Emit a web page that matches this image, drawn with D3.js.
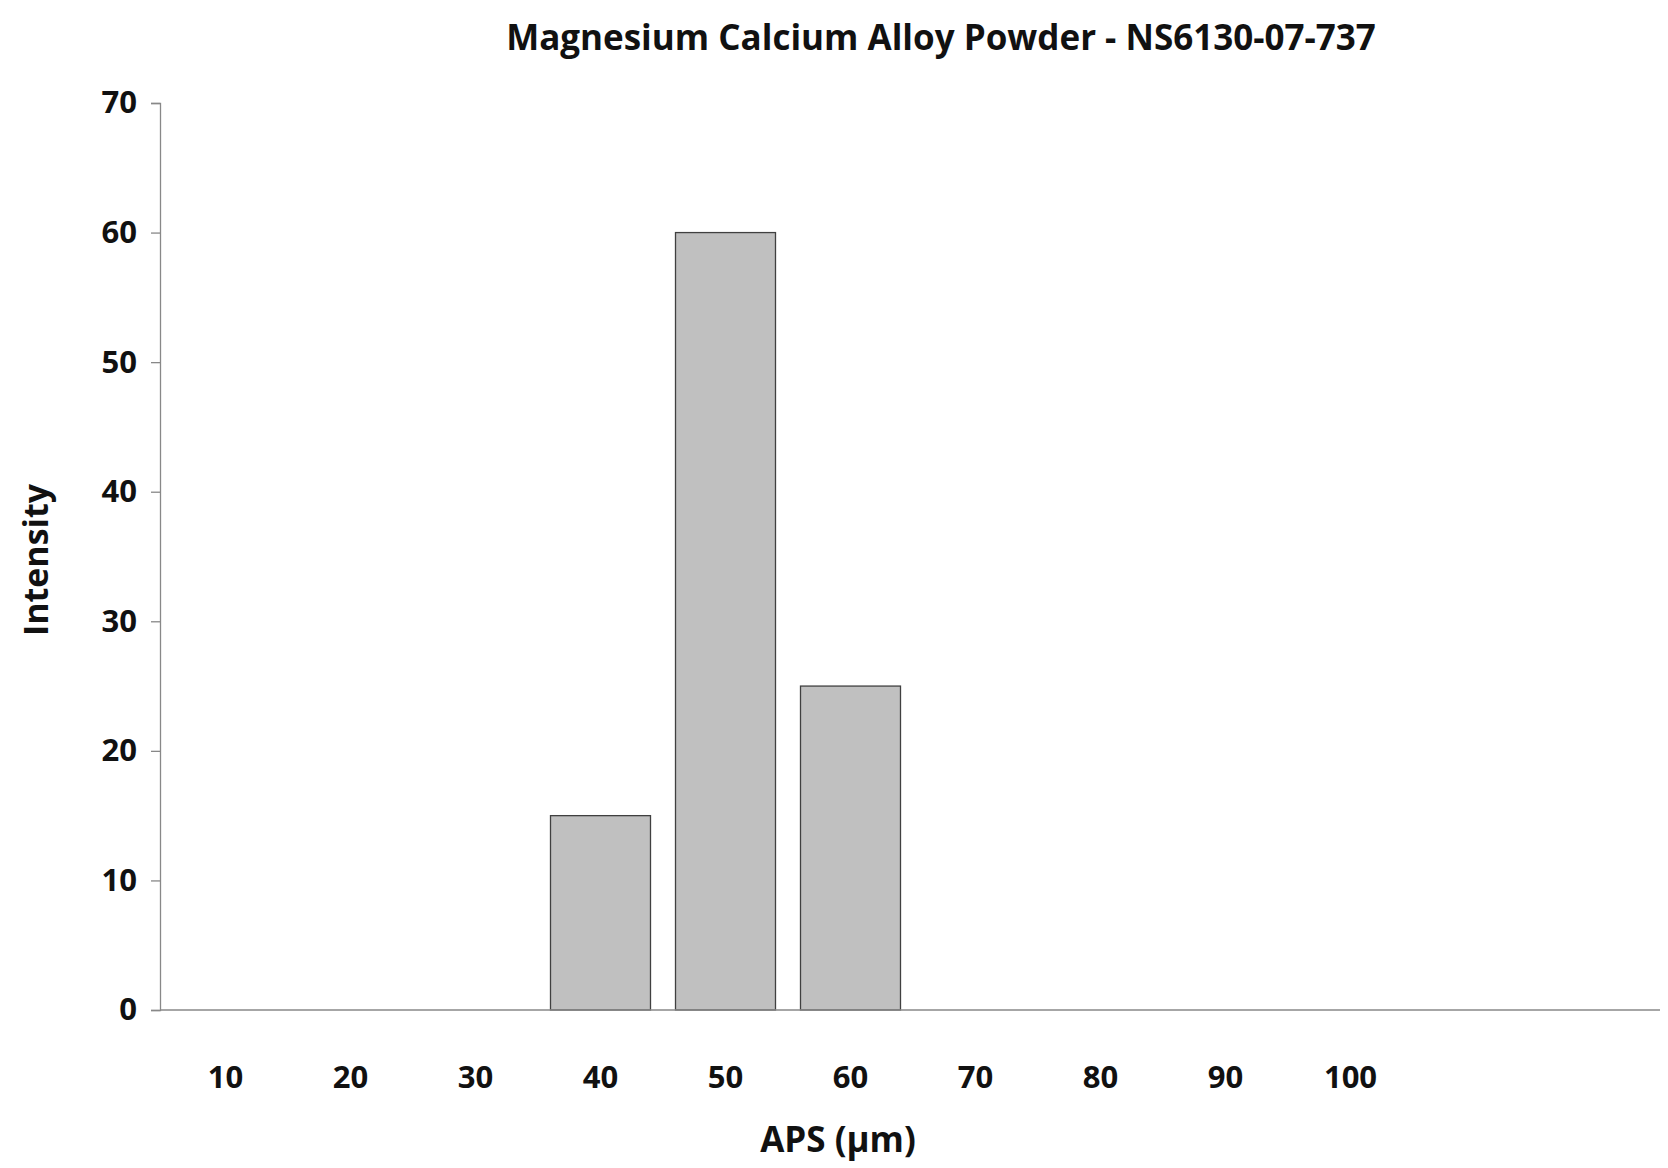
<!DOCTYPE html><html><head><meta charset="utf-8">
<script src="https://cdn.jsdelivr.net/npm/d3@7"></script>
<style>body{margin:0;background:#fff}</style></head><body>
<svg id="c" width="1668" height="1168"></svg>
<script>
const categories=["10","20","30","40","50","60","70","80","90","100","",""];
const values=[0,0,0,15,60,25,0,0,0,0,0,0];
const yTicks=[0,10,20,30,40,50,60,70];
const svg=d3.select("#c");
const font="'Open Sans', 'DejaVu Sans', sans-serif";
const x=d3.scaleBand().domain(d3.range(categories.length)).range([163,1663]).paddingInner(0.2).paddingOuter(0.1);
const y=d3.scaleLinear().domain([0,70]).range([1010,103]);
values.forEach((v,i)=>{ if(v>0) svg.append("rect").attr("x",x(i)).attr("y",y(v)).attr("width",x.bandwidth()).attr("height",y(0)-y(v)).attr("fill","#c0c0c0").attr("stroke","#404040").attr("stroke-width",1.3);});
const ya=svg.append("g").attr("transform","translate(160,0)").call(d3.axisLeft(y).tickValues(yTicks).tickSize(9).tickPadding(14));
ya.selectAll("path,line").attr("stroke","#888").attr("stroke-width",1.3);
ya.selectAll("text").attr("font-family",font).attr("font-size",31).attr("font-weight","bold").attr("fill","#111");
const xa=svg.append("g").attr("transform","translate(0,1010)").call(d3.axisBottom(x).tickSize(0).tickPadding(56).tickFormat(i=>categories[i]));
xa.select("path").attr("stroke","#888").attr("stroke-width",1.3).attr("d","M160,0H1660");
xa.selectAll("text").attr("font-family",font).attr("font-size",31).attr("font-weight","bold").attr("fill","#111");
svg.append("text").attr("x",941).attr("y",50).attr("text-anchor","middle").attr("font-family",font).attr("font-size",35).attr("font-weight","bold").attr("fill","#111").text("Magnesium Calcium Alloy Powder - NS6130-07-737");
svg.append("text").attr("x",838).attr("y",1152).attr("text-anchor","middle").attr("font-family",font).attr("font-size",35).attr("font-weight","bold").attr("fill","#111").text("APS (µm)");
svg.append("text").attr("transform","translate(48,560) rotate(-90)").attr("text-anchor","middle").attr("font-family",font).attr("font-size",34).attr("font-weight","bold").attr("fill","#111").text("Intensity");
</script></body></html>
